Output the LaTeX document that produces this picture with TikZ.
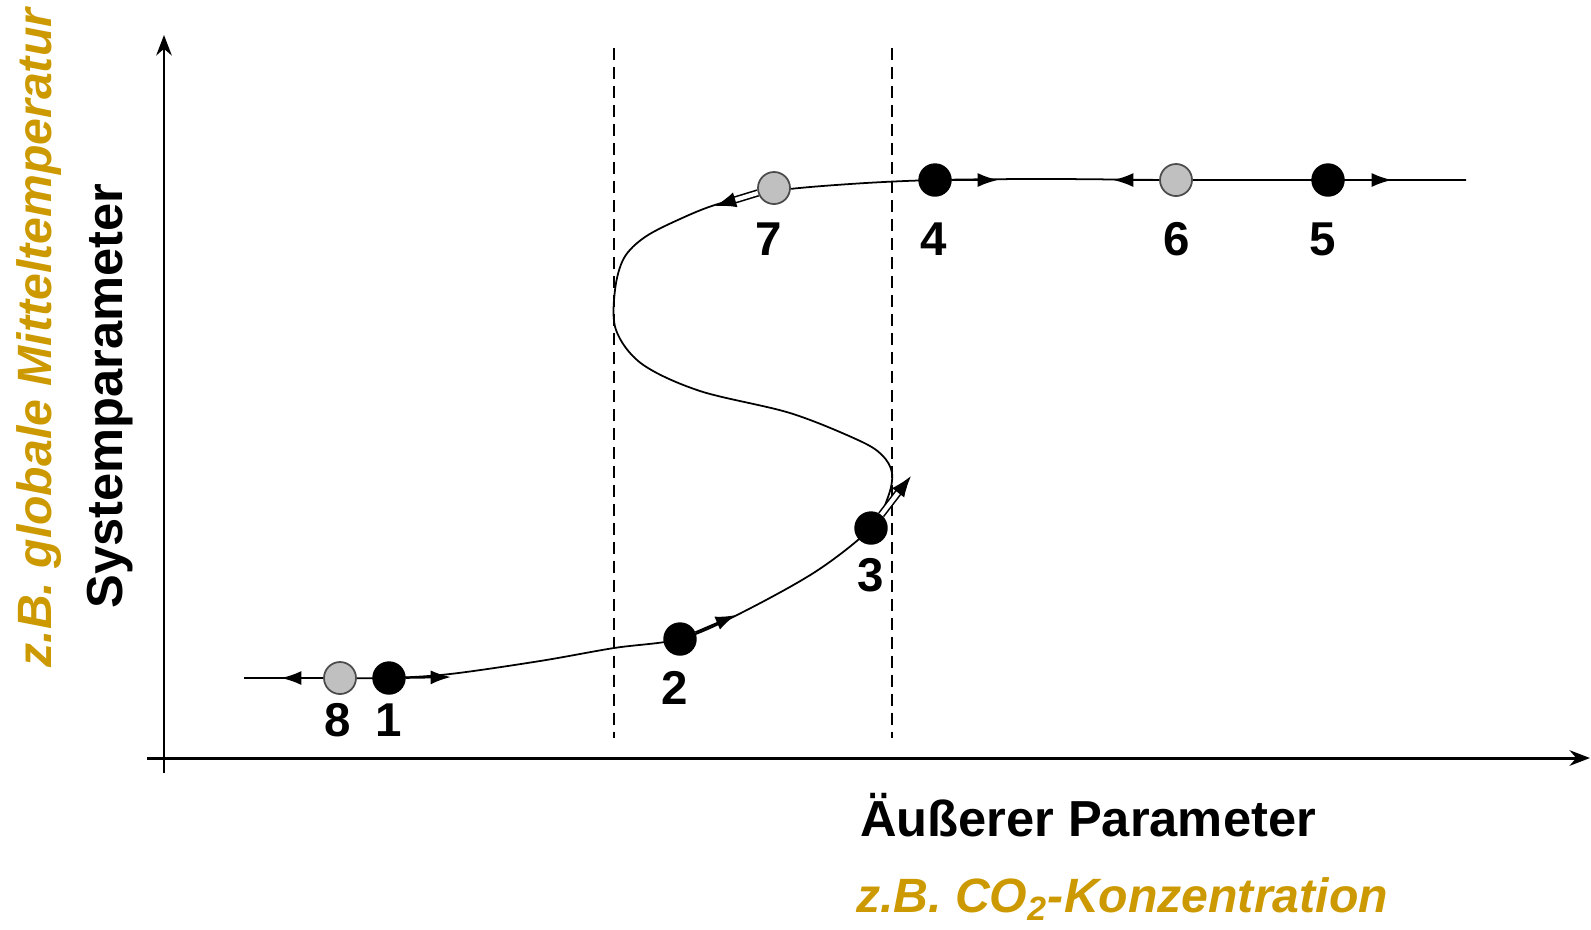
\documentclass[tikz,border=0pt]{standalone}
\usepackage{fontspec}
\setmainfont{Liberation Sans}
\usetikzlibrary{arrows.meta, calc}
\definecolor{goldtext}{HTML}{CC9900}
\definecolor{graydot}{HTML}{C0C0C0}

\tikzset{
  stablept/.style={circle, fill=black, draw=black, minimum size=0.32cm, inner sep=0pt},
  unstablept/.style={circle, fill=graydot, draw=black!70, line width=0.5pt, minimum size=0.32cm, inner sep=0pt},
  numlabel/.style={font=\bfseries\fontsize{13.5}{15}\selectfont},
  flow/.style={line width=0.6pt, -{Latex[length=5.8pt,width=4pt]}},
  jump/.style={double, double distance=1.2pt, line width=0.45pt, -{Latex[length=6pt,width=4.4pt]}},
  axis/.style={line width=0.85pt, -{Stealth[length=5.8pt,width=4.4pt]}},
  threshold/.style={line width=0.7pt, dash pattern=on 3.4pt off 2pt},
}

\begin{document}
\begin{tikzpicture}[x=0.01cm, y=-0.01cm]
            \useasboundingbox (0,0) rectangle (1591,929);

            % axes
            \coordinate (xstart) at (147,758);
            \coordinate (xend) at (1590,758);
            \coordinate (ystart) at (164,773);
            \coordinate (yend) at (164,35);
            \draw[axis] (xstart) -- (xend);
            \draw[axis] (ystart) -- (yend);

            % thresholds
            \draw[threshold] (614,48) -- (614,738);
            \draw[threshold] (892,48) -- (892,738);

            % hysteresis curve
            \draw[line width=0.5pt] plot[smooth, tension=0.55] coordinates {
              (244,678) (340,678) (389,678) (450,674) (540,661) (614,648)
              (680,639) (735,616) (815,572) (871,528) (888,497) (892,473)
              (882,455) (858,440) (790,413) (700,391) (642,364) (616,330)
              (615,290) (624,258) (645,237) (680,219) (718,204) (774,191)
              (850,184) (935,180) (1050,179) (1176,180) (1328,180) (1466,180)};

            % points
            \node[unstablept] (p8) at (340,678) {};
            \node[stablept] (p1) at (389,678) {};
            \node[stablept] (p2) at (680,639) {};
            \node[stablept] (p3) at (871,528) {};
            \node[unstablept] (p7) at (774,188) {};
            \node[stablept] (p4) at (935,180) {};
            \node[unstablept] (p6) at (1176,180) {};
            \node[stablept] (p5) at (1328,180) {};

            % directions
            \coordinate (t8) at (281,678);
            \coordinate (t1) at (451,677);
            \coordinate (t2) at (736,615);
            \coordinate (t3) at (911,476);
            \coordinate (t7) at (715,206);
            \coordinate (t4) at (998,180);
            \coordinate (t6) at (1113,180);
            \coordinate (t5) at (1392,180);
            \draw[flow] (p8) -- (t8);
            \draw[flow] (p1) -- (t1);
            \draw[flow] (p2) -- (t2);
            \draw[jump] (p3) -- (t3);
            \draw[jump] (p7) -- (t7);
            \draw[flow] (p4) -- (t4);
            \draw[flow] (p6) -- (t6);
            \draw[flow] (p5) -- (t5);

            \node[numlabel] at (338,720) {8};
            \node[numlabel] at (389,720) {1};
            \node[numlabel] at (675,688) {2};
            \node[numlabel] at (871,575) {3};
            \node[numlabel] at (769,239) {7};
            \node[numlabel] at (934,239) {4};
            \node[numlabel] at (1177,239) {6};
            \node[numlabel] at (1323,239) {5};

            % axis labels
            \node[font=\bfseries\fontsize{14.4}{16}\selectfont] (xlabel) at (1088,815) {Äußerer Parameter};
            \node[font=\bfseries\fontsize{14.4}{16}\selectfont, rotate=90] (ylabel) at (110,396) {Systemparameter};
            \node[goldtext, font=\bfseries\itshape\fontsize{13.7}{16}\selectfont] (xexample) at (1122,899) {z.B. CO\textsubscript{2}-Konzentration};
            \node[goldtext, font=\bfseries\itshape\fontsize{13.7}{16}\selectfont, rotate=90] (yexample) at (39,338) {z.B. globale Mitteltemperatur};
\end{tikzpicture}
\end{document}
